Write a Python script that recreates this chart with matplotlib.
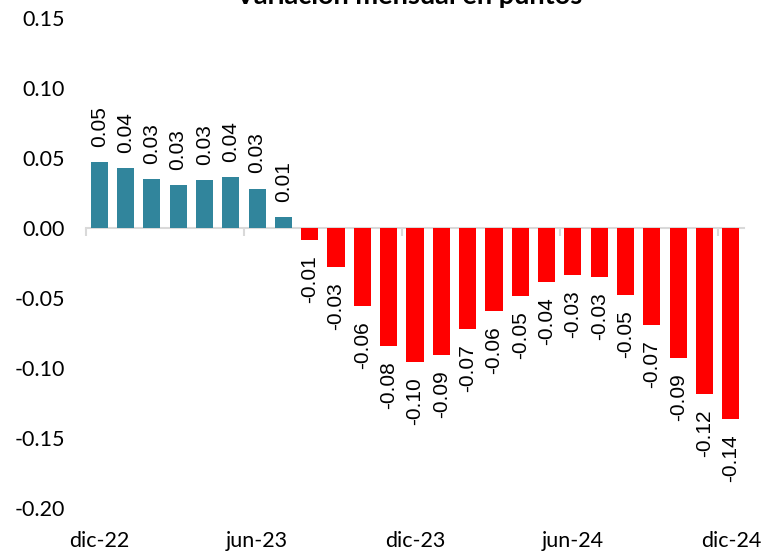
import matplotlib.pyplot as plt
import numpy as np

months = ['dic-22', 'ene-23', 'feb-23', 'mar-23', 'abr-23', 'may-23', 'jun-23',
          'jul-23', 'ago-23', 'sep-23', 'oct-23', 'nov-23', 'dic-23',
          'ene-24', 'feb-24', 'mar-24', 'abr-24', 'may-24', 'jun-24',
          'jul-24', 'ago-24', 'sep-24', 'oct-24', 'nov-24', 'dic-24']
values = [0.047, 0.043, 0.0348, 0.0305, 0.034, 0.0362, 0.0282, 0.0078,
          -0.0088, -0.0276, -0.0557, -0.084, -0.0957, -0.0907, -0.0719,
          -0.059, -0.0486, -0.0386, -0.0333, -0.0349, -0.0479, -0.0693,
          -0.0929, -0.1186, -0.1364]
shown_months = ['dic-22', 'jun-23', 'dic-23', 'jun-24', 'dic-24']
yticks = [-0.20, -0.15, -0.10, -0.05, 0.00, 0.05, 0.10, 0.15]

pos_color = '#31859C'
neg_color = '#FF0000'

fig = plt.figure(figsize=(7.65, 5.53), dpi=100)
ax = fig.add_axes([86 / 765, 1 - 508 / 553, (744 - 86) / 765, 490 / 553])

x = np.arange(len(values))
colors = [pos_color if v >= 0 else neg_color for v in values]
bars = ax.bar(x, values, width=0.65, color=colors, zorder=2)

for xi, v in zip(x, values):
    ax.annotate(f'{v:.2f}', (xi, v), xytext=(0, 11 if v >= 0 else -11),
                textcoords='offset points', rotation=90, ha='center',
                va='bottom' if v >= 0 else 'top', fontsize=15,
                family='Liberation Sans', color='black')

ax.set_xlim(-0.5, len(values) - 0.5)
ax.set_ylim(-0.20, 0.15)
ax.set_yticks(yticks)
ax.set_yticklabels([f'{t:.2f}' for t in yticks], family='Lato', fontsize=15.5)
ax.tick_params(axis='y', length=0, pad=15)

for s in ['top', 'right', 'left']:
    ax.spines[s].set_visible(False)
ax.spines['bottom'].set_position(('data', 0))
ax.spines['bottom'].set_color('#D9D9D9')
ax.spines['bottom'].set_linewidth(1.5)
ax.spines['bottom'].set_zorder(1)

ax.set_xticks(np.arange(-0.5, len(values), 6), minor=True)
ax.set_xticks([])
ax.tick_params(axis='x', which='minor', length=6, width=1.5, color='#D9D9D9',
               direction='out')

for m in shown_months:
    i = months.index(m)
    ax.text(i, -0.067, m, transform=ax.get_xaxis_transform(), ha='center',
            va='center', family='Lato', fontsize=15.5)

fig.text(0.535, 1 - 4 / 553, 'Variación mensual en puntos', ha='center',
         va='baseline', family='Lato', fontweight='bold', fontsize=19.5)

fig.savefig('out.png', dpi=100)
